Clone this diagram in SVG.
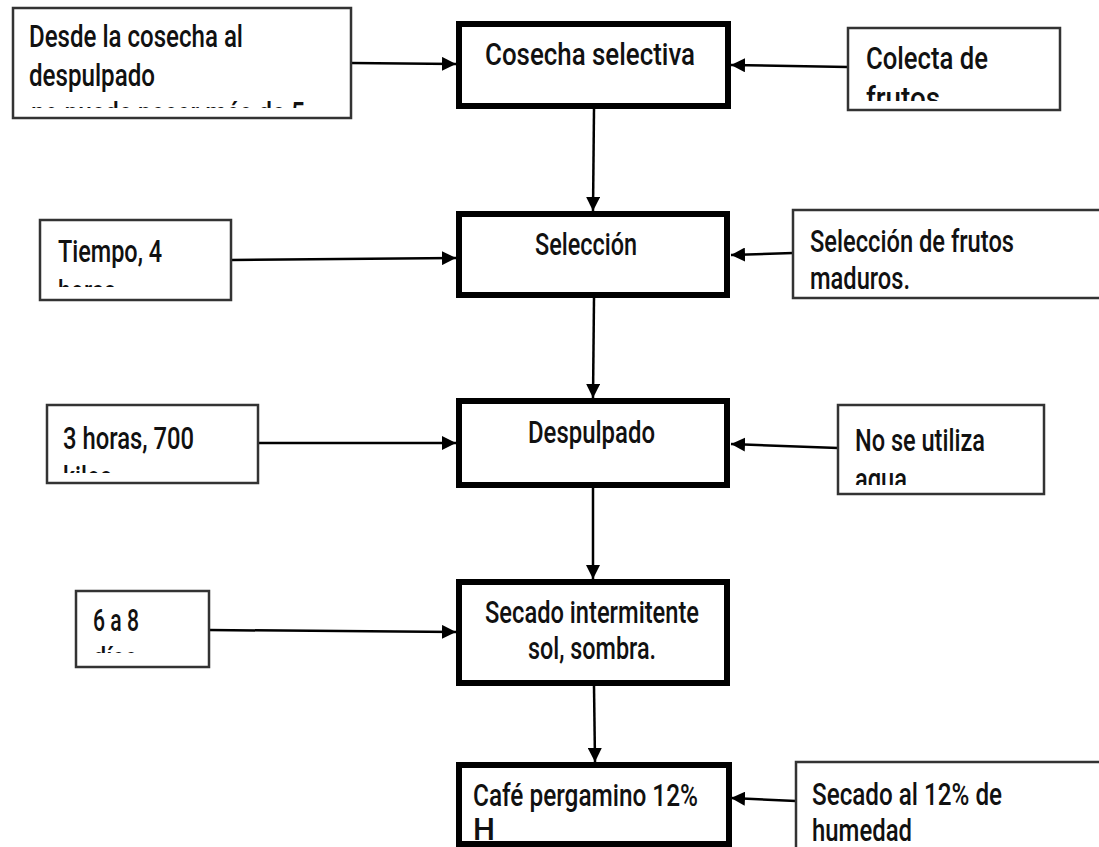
<svg xmlns="http://www.w3.org/2000/svg" width="1099" height="847" viewBox="0 0 1099 847">
<style>
.side{fill:#fff;stroke:#333;stroke-width:2.5}
.main{fill:#fff;stroke:#000;stroke-width:6}
.t{font-family:Roboto,"Liberation Sans",sans-serif;font-size:31px;font-weight:500;fill:#111}
.c{stroke:#000;stroke-width:2.5;fill:none;marker-end:url(#ah)}
</style>
<defs>
<marker id="ah" viewBox="0 0 10 10" refX="10" refY="5" markerWidth="14" markerHeight="14" markerUnits="userSpaceOnUse" orient="auto">
<path d="M0,0 L10,5 L0,10 z" fill="#000"/>
</marker>
<clipPath id="clA"><rect x="14" y="9" width="336" height="99"/></clipPath>
<clipPath id="clCol"><rect x="849" y="29" width="210" height="72"/></clipPath>
<clipPath id="clTie"><rect x="41" y="221" width="189" height="66"/></clipPath>
<clipPath id="cl3h"><rect x="48" y="406" width="209" height="67"/></clipPath>
<clipPath id="clNo"><rect x="839" y="406" width="204" height="79"/></clipPath>
<clipPath id="cl68"><rect x="77" y="592" width="131" height="61"/></clipPath>
</defs>
<rect width="1099" height="847" fill="#fff"/>

<g id="connectors">
<path class="c" d="M351,63 L456,64"/>
<path class="c" d="M848,67 L731,65"/>
<path class="c" d="M594,109 L593,211"/>
<path class="c" d="M231,260 L456,258"/>
<path class="c" d="M793,253 L731,255"/>
<path class="c" d="M594,298 L593,398"/>
<path class="c" d="M258,443 L456,443"/>
<path class="c" d="M838,448 L731,444"/>
<path class="c" d="M593,488 L593,579"/>
<path class="c" d="M209,630 L456,632"/>
<path class="c" d="M594,686 L595,762"/>
<path class="c" d="M796,801 L731,798"/>
</g>

<g id="n-desde">
<rect class="side" x="13" y="8" width="338" height="110"/>
<g clip-path="url(#clA)">
<text class="t" x="29" y="47" textLength="214" lengthAdjust="spacingAndGlyphs">Desde la cosecha al</text>
<text class="t" x="29" y="86" textLength="126" lengthAdjust="spacingAndGlyphs">despulpado</text>
<text class="t" x="31" y="124" textLength="274" lengthAdjust="spacingAndGlyphs">no puede pasar más de 5</text>
</g>
</g>

<g id="n-cosecha">
<rect class="main" x="459" y="24" width="269" height="82"/>
<text class="t" x="485" y="65" textLength="210" lengthAdjust="spacingAndGlyphs">Cosecha selectiva</text>
</g>

<g id="n-colecta">
<rect class="side" x="848" y="28" width="212" height="82"/>
<g clip-path="url(#clCol)">
<text class="t" x="866" y="69" textLength="122" lengthAdjust="spacingAndGlyphs">Colecta de</text>
<text class="t" x="866" y="109" textLength="74" lengthAdjust="spacingAndGlyphs">frutos</text>
</g>
</g>

<g id="n-tiempo">
<rect class="side" x="40" y="220" width="191" height="80"/>
<g clip-path="url(#clTie)">
<text class="t" x="58" y="262" textLength="104" lengthAdjust="spacingAndGlyphs">Tiempo, 4</text>
<text class="t" x="58" y="302" textLength="58" lengthAdjust="spacingAndGlyphs">horas</text>
</g>
</g>

<g id="n-seleccion">
<rect class="main" x="459" y="214" width="268" height="81"/>
<text class="t" x="535" y="255" textLength="102" lengthAdjust="spacingAndGlyphs">Selección</text>
</g>

<g id="n-maduros">
<rect class="side" x="793" y="210" width="320" height="88"/>
<text class="t" x="810" y="252" textLength="204" lengthAdjust="spacingAndGlyphs">Selección de frutos</text>
<text class="t" x="810" y="289" textLength="100" lengthAdjust="spacingAndGlyphs">maduros.</text>
</g>

<g id="n-3horas">
<rect class="side" x="47" y="405" width="211" height="78"/>
<g clip-path="url(#cl3h)">
<text class="t" x="63" y="449" textLength="131" lengthAdjust="spacingAndGlyphs">3 horas, 700</text>
<text class="t" x="63" y="488" textLength="49" lengthAdjust="spacingAndGlyphs">kilos</text>
</g>
</g>

<g id="n-despulpado">
<rect class="main" x="459" y="401" width="268" height="84"/>
<text class="t" x="528" y="443" textLength="127" lengthAdjust="spacingAndGlyphs">Despulpado</text>
</g>

<g id="n-agua">
<rect class="side" x="838" y="405" width="206" height="89"/>
<g clip-path="url(#clNo)">
<text class="t" x="855" y="451" textLength="130" lengthAdjust="spacingAndGlyphs">No se utiliza</text>
<text class="t" x="855" y="490" textLength="52" lengthAdjust="spacingAndGlyphs">agua</text>
</g>
</g>

<g id="n-6a8">
<rect class="side" x="76" y="591" width="133" height="76"/>
<g clip-path="url(#cl68)">
<text class="t" x="93" y="631" textLength="46" lengthAdjust="spacingAndGlyphs">6 a 8</text>
<text class="t" x="93" y="669" textLength="44" lengthAdjust="spacingAndGlyphs">días</text>
</g>
</g>

<g id="n-secado">
<rect class="main" x="459" y="582" width="268" height="101"/>
<text class="t" x="485" y="623" textLength="214" lengthAdjust="spacingAndGlyphs">Secado intermitente</text>
<text class="t" x="528" y="659" textLength="128" lengthAdjust="spacingAndGlyphs">sol, sombra.</text>
</g>

<g id="n-cafe">
<rect class="main" x="459" y="765" width="270" height="79"/>
<text class="t" x="473" y="806" textLength="225" lengthAdjust="spacingAndGlyphs">Café pergamino 12%</text>
<text class="t" x="473" y="840" font-size="22">H</text>
</g>

<g id="n-humedad">
<rect class="side" x="796" y="762" width="320" height="100"/>
<text class="t" x="812" y="805" textLength="190" lengthAdjust="spacingAndGlyphs">Secado al 12% de</text>
<text class="t" x="812" y="841" textLength="100" lengthAdjust="spacingAndGlyphs">humedad</text>
</g>
</svg>
